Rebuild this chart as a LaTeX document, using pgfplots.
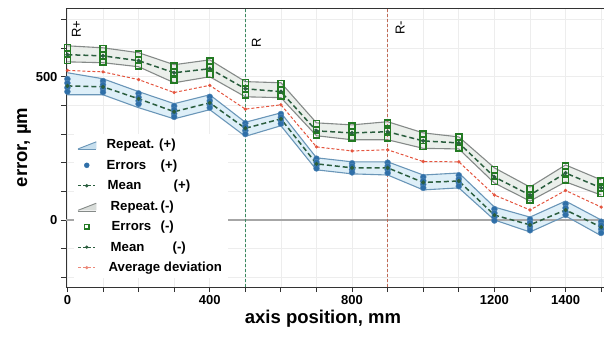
\documentclass[border=0pt]{standalone}
\usepackage{pgfplots}
\pgfplotsset{compat=1.18}
\usepackage{pgfplotstable}
\usepgfplotslibrary{fillbetween}
\usetikzlibrary{calc}
\usepackage{fontspec}
\setmainfont{Liberation Sans}

\definecolor{bfill}{HTML}{D8ECF7}
\definecolor{bline}{HTML}{6A96B8}
\definecolor{gfill}{HTML}{E8ECE8}
\definecolor{gline}{HTML}{858A88}
\definecolor{bdot}{HTML}{2F6FA8}
\definecolor{gsq}{HTML}{237A23}
\definecolor{mgreen}{HTML}{2A5E3E}
\definecolor{avgred}{HTML}{E4553F}
\definecolor{vgreen}{HTML}{3A8A60}
\definecolor{vred}{HTML}{C06A55}

\pgfplotstableread{
x    bm   bu   bl   gm   gu   gl   avg
0    468  514  437  577  608  552  522
100  465  493  437  573  601  549  517
200  423  448  392  556  584  535  490
300  378  406  353  514  542  479  445
400  409  437  385  528  559  500  470
500  320  341  292  458  483  430  387
600  353  374  329  448  479  427  402
700  196  217  175  311  339  294  255
800  182  203  161  304  332  280  241
900  182  203  157  308  343  280  245
1000 131  157  105  276  304  250  204
1100 136  164  112  269  290  248  203
1200 17   45   0    150  182  129  87
1300 -17  10   -42  87   115  66   35
1400 35   66   14   164  192  133  103
1500 -25  0    -55  112  140  87   45
}\maindata

\pgfplotstableread{
x    e1   e2   e3   e4
0    492  478  462  448
100  485  472  458  446
200  442  428  416  405
300  398  385  371  360
400  430  416  402  392
500  338  326  312  300
600  370  359  346  336
700  214  202  190  180
800  198  188  176  166
900  200  188  176  164
1000 150  137  124  112
1100 156  143  130  118
1200 38   24   10   -2
1300 2    -10  -24  -36
1400 56   42   28   18
1500 -6   -18  -32  -45
}\berr

\pgfplotstableread{
x    s1   s2   s3
0    602  580  556
100  598  575  552
200  580  558  538
300  538  514  488
400  555  532  508
500  480  458  436
600  476  452  432
700  336  312  296
800  328  306  286
900  338  310  286
1000 300  278  256
1100 290  270  252
1200 176  152  134
1300 110  88   70
1400 188  166  140
1500 136  112  92
}\gerr

\begin{document}
\begin{tikzpicture}
\begin{axis}[
  scale only axis, width=538pt, height=279pt,
  xmin=-4, xmax=1508, ymin=-234, ymax=740,
  axis x line=box, axis y line=left,
  axis line style={draw=black!80, line width=0.9pt, -},
  xtick={0,100,...,1500},
  xticklabels={0,,,,400,,,,800,,,,1200,,1400,},
  ytick={-200,-100,...,700},
  yticklabels={,,0,,,,,500,},
  xtick pos=lower, ytick pos=left,
  tick align=outside, major tick length=5pt,
  tick style={black!80, line width=0.9pt},
  grid=major, grid style={black!7, line width=0.7pt},
  ticklabel style={font=\fontsize{13}{15}\selectfont\bfseries},
  /pgf/number format/assume math mode=true,
  xlabel={axis position, mm}, ylabel={error, µm},
  label style={font=\fontsize{18.5}{22}\selectfont\bfseries},
  xlabel style={xshift=-12pt, yshift=2pt},
  ylabel style={yshift=-2pt},
  legend style={at={(rel axis cs:0.014,0.548)}, anchor=north west,
    draw=none, fill=white, font=\fontsize{13.2}{15}\selectfont\bfseries,
    row sep=5.4pt, cells={anchor=west}, inner xsep=4pt, inner ysep=3pt},
  legend cell align=left,
]
% zero line
\addplot[forget plot, black!35, line width=1.4pt] coordinates {(-4,0) (1508,0)};

% bands
\addplot[forget plot, name path=gu, draw=none] table[x=x,y=gu]{\maindata};
\addplot[forget plot, name path=gl, draw=none] table[x=x,y=gl]{\maindata};
\addplot[forget plot, gfill, fill opacity=0.85] fill between[of=gu and gl];
\addplot[forget plot, name path=bu, draw=none] table[x=x,y=bu]{\maindata};
\addplot[forget plot, name path=bl, draw=none] table[x=x,y=bl]{\maindata};
\addplot[forget plot, bfill, fill opacity=0.85] fill between[of=bu and bl];
\addplot[forget plot, gline, line width=1.1pt] table[x=x,y=gu]{\maindata};
\addplot[forget plot, gline, line width=1.1pt] table[x=x,y=gl]{\maindata};
\addplot[forget plot, bline, line width=1.1pt] table[x=x,y=bu]{\maindata};
\addplot[forget plot, bline, line width=1.1pt] table[x=x,y=bl]{\maindata};

% vertical reference lines
\draw[vgreen, line width=1.5pt, dash pattern=on 3pt off 2pt] (axis cs:500,-234) -- (axis cs:500,740);
\draw[vred, line width=1.5pt, dash pattern=on 3pt off 2pt] (axis cs:900,-234) -- (axis cs:900,740);

% average deviation
\addplot[forget plot, avgred, line width=1pt, dash pattern=on 3pt off 2pt, mark=*, mark size=1.1pt, mark options={solid}] table[x=x,y=avg]{\maindata};

% errors +
\foreach \c in {e1,e2,e3,e4}{
  \addplot[forget plot, only marks, mark=*, mark size=3pt, bdot, mark options={fill=bdot, draw=bdot!80!white}] table[x=x,y=\c]{\berr};
}
% errors -
\foreach \c in {s1,s2,s3}{
  \addplot[forget plot, only marks, mark=square, mark size=3pt, gsq, mark options={line width=1.5pt, fill=white}] table[x=x,y=\c]{\gerr};
}

% means
\addplot[forget plot, mgreen, line width=1.5pt, dash pattern=on 5pt off 3pt, mark=*, mark size=1.2pt, mark options={solid}] table[x=x,y=bm]{\maindata};
\addplot[forget plot, mgreen, line width=1.5pt, dash pattern=on 5pt off 3pt, mark=*, mark size=1.2pt, mark options={solid}] table[x=x,y=gm]{\maindata};

% labels
\node[rotate=90, font=\fontsize{13}{15}\selectfont] at (axis cs:25,667) {R+};
\node[rotate=90, font=\fontsize{13}{15}\selectfont] at (axis cs:531,620) {R};
\node[rotate=90, font=\fontsize{13}{15}\selectfont] at (axis cs:935,670) {R-};

% legend
\addlegendimage{legend image code/.code={
  \fill[bfill!85!bline] (0pt,-4pt) -- (18pt,3pt) -- (18pt,-4pt) -- cycle;
  \draw[bline, line width=0.9pt] (0pt,-4pt) -- (18pt,3pt);
  \draw[bline, line width=0.9pt] (0pt,-5pt) -- (18pt,-5pt);}}
\addlegendentry{\hspace{8pt}Repeat. (+)}
\addlegendimage{only marks, mark=*, mark size=2.5pt, bdot}
\addlegendentry{\hspace{8pt}\makebox[54pt][l]{Errors}(+)}
\addlegendimage{mgreen, line width=1pt, dash pattern=on 3pt off 2pt, mark=*, mark size=1.1pt, mark options={solid}}
\addlegendentry{\hspace{9pt}\makebox[66pt][l]{Mean}(+)}
\addlegendimage{legend image code/.code={
  \fill[gfill!85!gline] (0pt,-4pt) -- (18pt,3pt) -- (18pt,-4pt) -- cycle;
  \draw[gline, line width=0.9pt] (0pt,-4pt) -- (18pt,3pt);
  \draw[gline, line width=0.9pt] (0pt,-5pt) -- (18pt,-5pt);}}
\addlegendentry{\hspace{12pt}\makebox[50pt][l]{Repeat.}(-)}
\addlegendimage{only marks, mark=square, mark size=2.3pt, gsq, mark options={line width=1.2pt}}
\addlegendentry{\hspace{13pt}\makebox[49pt][l]{Errors}(-)}
\addlegendimage{mgreen, line width=1pt, dash pattern=on 3pt off 2pt, mark=*, mark size=1.1pt, mark options={solid}}
\addlegendentry{\hspace{12pt}\makebox[62pt][l]{Mean}(-)}
\addlegendimage{avgred!70!white, line width=1pt, dash pattern=on 3pt off 2pt, mark=*, mark size=1.1pt, mark options={solid}}
\addlegendentry{\hspace{10pt}Average deviation}
\end{axis}
\pgfresetboundingbox
\useasboundingbox ($(current axis.south west)+(-66pt,-58pt)$) rectangle ($(current axis.north east)+(0pt,8pt)$);
\end{tikzpicture}
\end{document}
